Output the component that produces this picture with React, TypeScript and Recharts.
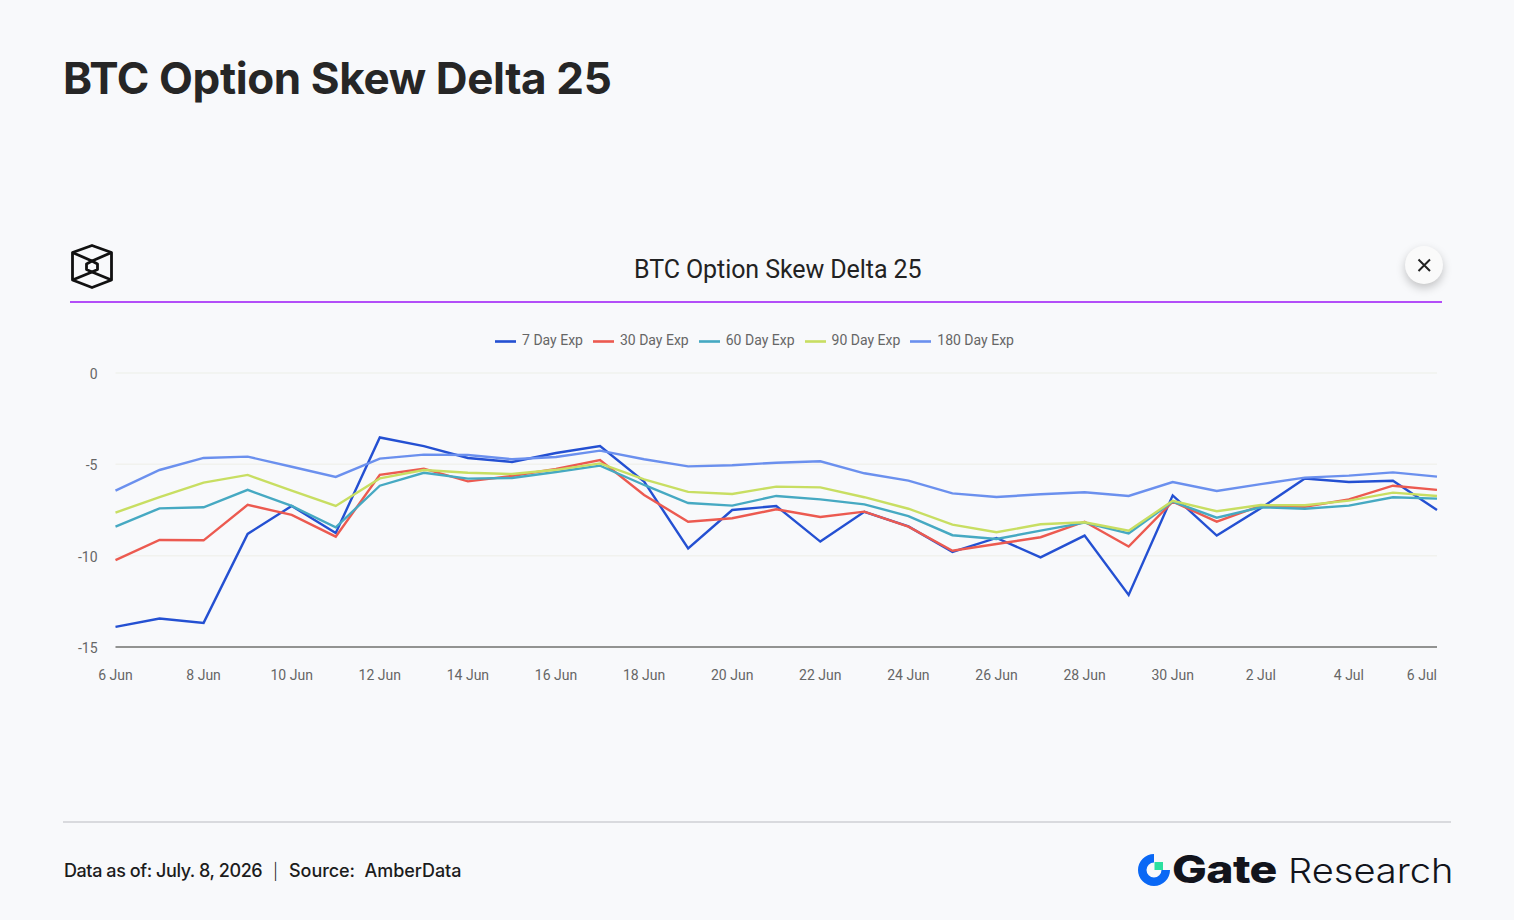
import { LineChart, Line, XAxis, YAxis, CartesianGrid, Legend } from 'recharts';

const dates = [
  '6 Jun', '7 Jun', '8 Jun', '9 Jun', '10 Jun', '11 Jun', '12 Jun', '13 Jun', '14 Jun', '15 Jun', '16 Jun',
  '17 Jun', '18 Jun', '19 Jun', '20 Jun', '21 Jun', '22 Jun', '23 Jun', '24 Jun', '25 Jun', '26 Jun',
  '27 Jun', '28 Jun', '29 Jun', '30 Jun', '1 Jul', '2 Jul', '3 Jul', '4 Jul', '5 Jul', '6 Jul',
];
const xTicks = [
  '6 Jun', '8 Jun', '10 Jun', '12 Jun', '14 Jun', '16 Jun', '18 Jun', '20 Jun', '22 Jun', '24 Jun',
  '26 Jun', '28 Jun', '30 Jun', '2 Jul', '4 Jul', '6 Jul',
];
const yTicks = [0, -5, -10, -15];

const day7 = [-13.9, -13.44, -13.68, -8.81, -7.28, -8.76, -3.53, -4.0, -4.65, -4.87, -4.38, -4.0, -5.95, -9.6, -7.5, -7.28, -9.23, -7.6, -8.4, -9.8, -9.03, -10.09, -8.9, -12.15, -6.7, -8.9, -7.4, -5.78, -5.97, -5.9, -7.5];
const day30 = [-10.24, -9.14, -9.16, -7.22, -7.77, -8.96, -5.58, -5.24, -5.93, -5.64, -5.25, -4.77, -6.68, -8.14, -7.95, -7.46, -7.88, -7.59, -8.41, -9.73, -9.36, -8.99, -8.14, -9.5, -7.04, -8.14, -7.26, -7.32, -6.92, -6.17, -6.4];
const day60 = [-8.41, -7.41, -7.35, -6.4, -7.28, -8.45, -6.17, -5.46, -5.78, -5.75, -5.42, -5.07, -6.13, -7.12, -7.26, -6.73, -6.92, -7.19, -7.83, -8.88, -9.09, -8.63, -8.19, -8.78, -7.04, -7.92, -7.35, -7.43, -7.26, -6.8, -6.88];
const day90 = [-7.64, -6.8, -6.0, -5.58, -6.44, -7.28, -5.77, -5.31, -5.46, -5.53, -5.3, -4.95, -5.82, -6.51, -6.62, -6.22, -6.26, -6.8, -7.43, -8.3, -8.72, -8.28, -8.17, -8.63, -7.0, -7.57, -7.23, -7.24, -6.99, -6.55, -6.73];
const day180 = [-6.44, -5.31, -4.65, -4.58, -5.13, -5.69, -4.69, -4.47, -4.49, -4.72, -4.6, -4.25, -4.72, -5.11, -5.05, -4.91, -4.83, -5.49, -5.89, -6.59, -6.79, -6.64, -6.53, -6.73, -5.97, -6.46, -6.08, -5.73, -5.62, -5.44, -5.67];

const data = dates.map((date, i) => ({
  date,
  d7: day7[i],
  d30: day30[i],
  d60: day60[i],
  d90: day90[i],
  d180: day180[i],
}));

const series = [
  { key: 'd7', name: '7 Day Exp', color: '#2450d2' },
  { key: 'd30', name: '30 Day Exp', color: '#ec5a50' },
  { key: 'd60', name: '60 Day Exp', color: '#46a9c2' },
  { key: 'd90', name: '90 Day Exp', color: '#c8de62' },
  { key: 'd180', name: '180 Day Exp', color: '#6b90ee' },
];

const roboto = 'Roboto, sans-serif';
const inter = 'Inter, sans-serif';

function XTick({ x, y, payload }: any) {
  const last = payload.value === '6 Jul';
  return (
    <text x={x} y={y + 25} textAnchor={last ? 'end' : 'middle'} fontSize={14} fontFamily={roboto} fill="#666">
      {payload.value}
    </text>
  );
}

function Cube() {
  return (
    <svg width={46} height={46} viewBox="0 0 46 46" style={{ position: 'absolute', left: 69, top: 244 }} fill="none" stroke="#111" strokeWidth={2.8} strokeLinejoin="round">
      <path d="M23 1.5 L42.5 8.5 L42.5 36 L23 43.5 L3.5 36 L3.5 8.5 Z" />
      <path d="M3.5 8.5 L23 17 L42.5 8.5 M3.5 36 L23 28 L42.5 36" />
      <path d="M23 17 L28.5 20 L28.5 25.5 L23 28 L17.5 25.5 L17.5 20 Z" />
    </svg>
  );
}

function GateMark() {
  return (
    <svg width={34} height={34} viewBox="0 0 34 34" style={{ position: 'absolute', left: 1137, top: 853 }}>
      <path d="M17 1 A16 16 0 1 0 33 17 L24.5 17 A7.5 7.5 0 1 1 17 9.5 Z" fill="#0a68f5" />
      <rect x={17.5} y={9} width={8.5} height={8} fill="#2be0a0" />
    </svg>
  );
}

export default function App() {
  return (
    <div style={{ position: 'absolute', left: 0, top: 0, width: 1514, height: 920, background: '#f8f9fb', overflow: 'hidden' }}>
      <div style={{ position: 'absolute', left: 63, top: 51, fontFamily: inter, fontWeight: 700, fontSize: 44, letterSpacing: -0.38, color: '#262626', whiteSpace: 'nowrap' }}>
        BTC Option Skew Delta 25
      </div>

      <Cube />
      <div style={{ position: 'absolute', left: 634, top: 255, fontFamily: roboto, fontSize: 25, letterSpacing: -0.08, color: '#222', whiteSpace: 'nowrap' }}>
        BTC Option Skew Delta 25
      </div>
      <div style={{ position: 'absolute', left: 1405, top: 246, width: 38, height: 38, borderRadius: 19, background: '#fafafa', boxShadow: '0 4px 10px rgba(0,0,0,0.22)' }}>
        <svg width={38} height={38} viewBox="0 0 38 38" stroke="#222" strokeWidth={2}>
          <path d="M13.5 13.5 L25 25 M25 13.5 L13.5 25" />
        </svg>
      </div>
      <div style={{ position: 'absolute', left: 70, top: 301, width: 1372, height: 1.5, background: '#b34ef8' }} />

      <div style={{ position: 'absolute', left: 0, top: 320 }}>
        <LineChart width={1514} height={380} data={data} margin={{ top: 32, right: 77, bottom: 23, left: 0 }}>
          <CartesianGrid horizontal vertical={false} stroke="#f1f2ee" strokeWidth={1.5} />
          <XAxis
            dataKey="date"
            ticks={xTicks}
            interval={0}
            tick={<XTick />}
            tickLine={false}
            axisLine={{ stroke: '#333', strokeWidth: 1 }}
            height={30}
          />
          <YAxis
            domain={[-15, 0]}
            ticks={yTicks}
            width={115.5}
            tickLine={false}
            axisLine={false}
            tickMargin={12}
            dy={1}
            tick={{ fontSize: 14, fontFamily: roboto, fill: '#666' }}
          />
          <Legend
            verticalAlign="top"
            iconType="plainline"
            iconSize={21}
            itemSorter={null}
            wrapperStyle={{ fontSize: 14, fontFamily: roboto, top: 11, left: 0, width: 1519 }}
            formatter={(value: string) => <span style={{ color: '#666', marginLeft: 2 }}>{value}</span>}
          />
          {series.map((s) => (
            <Line key={s.key} type="linear" dataKey={s.key} name={s.name} stroke={s.color} strokeWidth={2.4} dot={false} isAnimationActive={false} />
          ))}
        </LineChart>
      </div>

      <div style={{ position: 'absolute', left: 63, top: 821, width: 1388, height: 1.5, background: '#d9dade' }} />
      <div style={{ position: 'absolute', left: 64, top: 860, fontFamily: inter, fontWeight: 500, fontSize: 18, letterSpacing: -0.42, color: '#1c1c1c', whiteSpace: 'pre' }}>
        Data as of: July. 8, 2026
      </div>
      <div style={{ position: 'absolute', left: 273, top: 861, fontFamily: inter, fontWeight: 300, fontSize: 16, color: '#1c1c1c' }}>|</div>
      <div style={{ position: 'absolute', left: 289, top: 860, fontFamily: inter, fontWeight: 500, fontSize: 18, letterSpacing: -0.05, color: '#1c1c1c', whiteSpace: 'pre' }}>
        {'Source:  AmberData'}
      </div>

      <GateMark />
      <div style={{ position: 'absolute', left: 1172, top: 846, fontFamily: inter, fontWeight: 800, fontSize: 38, letterSpacing: -0.5, color: '#12141c', whiteSpace: 'nowrap', transform: 'scaleX(1.22)', transformOrigin: 'left' }}>
        Gate
      </div>
      <div style={{ position: 'absolute', left: 1288, top: 850, fontFamily: inter, fontWeight: 300, fontSize: 34, color: '#12141c', whiteSpace: 'nowrap', transform: 'scaleX(1.12)', transformOrigin: 'left' }}>
        Research
      </div>
    </div>
  );
}
